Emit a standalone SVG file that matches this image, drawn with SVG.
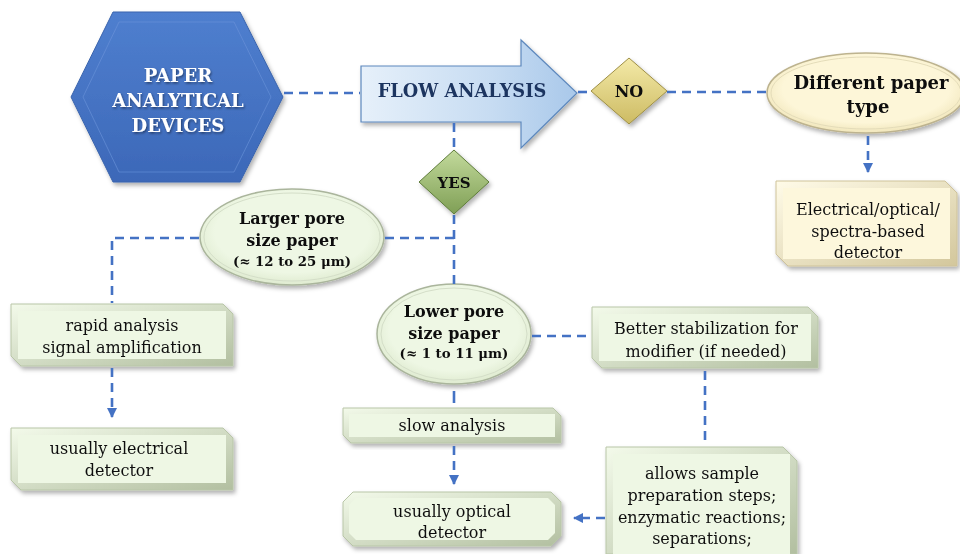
<svg xmlns="http://www.w3.org/2000/svg" width="960" height="554" viewBox="0 0 960 554">
<defs>
<style>
.con{fill:none;stroke:#4472c4;stroke-width:2.6;stroke-dasharray:9 6}
.t{font-family:"DejaVu Serif","Liberation Serif",serif;font-size:16px;fill:#111;text-anchor:middle}
.b{font-family:"DejaVu Serif","Liberation Serif",serif;font-weight:bold;fill:#111;text-anchor:middle}
.gbox{fill:url(#gFrame);stroke:#b9c6a8;stroke-width:1}
.ginner{fill:#eef7e4}
.ybox{fill:url(#yFrame);stroke:#cfc39a;stroke-width:1}
.yinner{fill:#fdf7dc}
</style>
<linearGradient id="gFrame" x1="0" y1="0" x2="1" y2="1"><stop offset="0" stop-color="#f3faea"/><stop offset="1" stop-color="#b2bfa0"/></linearGradient>
<linearGradient id="yFrame" x1="0" y1="0" x2="1" y2="1"><stop offset="0" stop-color="#fffbe8"/><stop offset="1" stop-color="#d3c79c"/></linearGradient>
<linearGradient id="hexG" x1="0" y1="0" x2="0" y2="1"><stop offset="0" stop-color="#4f7fcf"/><stop offset="1" stop-color="#3c68b8"/></linearGradient>
<linearGradient id="arrG" x1="0" y1="0" x2="1" y2="0"><stop offset="0" stop-color="#e6f0fa"/><stop offset="0.6" stop-color="#c7dcf2"/><stop offset="1" stop-color="#a9c8ea"/></linearGradient>
<linearGradient id="noG" x1="0" y1="0" x2="0" y2="1"><stop offset="0" stop-color="#f4eaa8"/><stop offset="1" stop-color="#cdbb63"/></linearGradient>
<linearGradient id="yesG" x1="0" y1="0" x2="0" y2="1"><stop offset="0" stop-color="#c3da9c"/><stop offset="1" stop-color="#7f9f55"/></linearGradient>
<radialGradient id="ellG" cx="0.5" cy="0.45" r="0.6"><stop offset="0.7" stop-color="#eef7e4"/><stop offset="1" stop-color="#d9e6c8"/></radialGradient>
<radialGradient id="ellY" cx="0.5" cy="0.45" r="0.6"><stop offset="0.7" stop-color="#fdf6d8"/><stop offset="1" stop-color="#ece0b0"/></radialGradient>
<filter id="sh" x="-10%" y="-10%" width="125%" height="130%"><feDropShadow dx="2" dy="3" stdDeviation="2" flood-color="#000" flood-opacity="0.3"/></filter>
<filter id="tsh" x="-10%" y="-10%" width="130%" height="140%"><feDropShadow dx="1" dy="1.5" stdDeviation="1" flood-color="#000" flood-opacity="0.45"/></filter>
<marker id="ah" viewBox="0 0 10 10" refX="9" refY="5" markerWidth="4" markerHeight="4" orient="auto"><path d="M0,0L10,5L0,10z" fill="#4472c4"/></marker>
</defs>
<rect width="960" height="554" fill="#fff"/>

<g id="n-pad" filter="url(#sh)">
<polygon points="71,97 113,12 240,12 283,97 240,182 113,182" fill="url(#hexG)" stroke="#3a64ad" stroke-width="1"/>
<polygon points="83,97 119,22 234,22 271,97 234,172 119,172" fill="none" stroke="#6d95da" stroke-width="1" opacity="0.6"/>
<g filter="url(#tsh)">
<text class="b" x="178" y="82" font-size="18" style="fill:#fff">PAPER</text>
<text class="b" x="178" y="107" font-size="18" style="fill:#fff">ANALYTICAL</text>
<text class="b" x="178" y="132" font-size="18" style="fill:#fff">DEVICES</text>
</g>
</g>

<g id="n-flow" filter="url(#sh)">
<polygon points="361,66 521,66 521,40 577,93 521,148 521,122 361,122" fill="url(#arrG)" stroke="#5d88bd" stroke-width="1.2"/>
<text class="b" x="462" y="97" font-size="17.8" style="fill:#1f3560">FLOW ANALYSIS</text>
</g>

<g id="n-no" filter="url(#sh)">
<polygon points="629,58 667,91 629,124 591,91" fill="url(#noG)" stroke="#9e8f45" stroke-width="1"/>
<text class="b" x="629" y="97" font-size="16">NO</text>
</g>

<g id="n-diff" filter="url(#sh)">
<ellipse cx="866" cy="93" rx="99" ry="40" fill="url(#ellY)" stroke="#bdb38f" stroke-width="1.5"/>
<ellipse cx="866" cy="93" rx="95" ry="36" fill="none" stroke="#e4dcb9" stroke-width="1"/>
<text class="b" x="871" y="89" font-size="18">Different paper</text>
<text class="b" x="868" y="113" font-size="18">type</text>
</g>

<g id="n-elec" filter="url(#sh)">
<polygon class="ybox" points="776,181 945,181 957,193 957,266 788,266 776,254"/>
<rect class="yinner" x="783" y="188" width="167" height="71"/>
<text class="t" x="868" y="215">Electrical/optical/</text>
<text class="t" x="868" y="237">spectra-based</text>
<text class="t" x="868" y="258">detector</text>
</g>

<g id="n-yes" filter="url(#sh)">
<polygon points="454,150 489,182 454,214 419,182" fill="url(#yesG)" stroke="#5e7c3a" stroke-width="1"/>
<text class="b" x="454" y="188" font-size="15">YES</text>
</g>

<g id="n-larger" filter="url(#sh)">
<ellipse cx="292" cy="237" rx="92" ry="48" fill="url(#ellG)" stroke="#aab59c" stroke-width="1.5"/>
<ellipse cx="292" cy="237" rx="88" ry="44" fill="none" stroke="#d4dec8" stroke-width="1"/>
<text class="b" x="292" y="224" font-size="16">Larger pore</text>
<text class="b" x="292" y="246" font-size="16">size paper</text>
<text class="b" x="292" y="266" font-size="13.3">(≈ 12 to 25 μm)</text>
</g>

<g id="n-rapid" filter="url(#sh)">
<polygon class="gbox" points="11,304 223,304 233,314 233,366 21,366 11,356"/>
<rect class="ginner" x="18" y="311" width="208" height="48"/>
<text class="t" x="122" y="331">rapid analysis</text>
<text class="t" x="122" y="353">signal amplification</text>
</g>

<g id="n-uelec" filter="url(#sh)">
<polygon class="gbox" points="11,428 223,428 233,438 233,490 21,490 11,480"/>
<rect class="ginner" x="18" y="435" width="208" height="48"/>
<text class="t" x="119" y="454">usually electrical</text>
<text class="t" x="119" y="476">detector</text>
</g>

<g id="n-lower" filter="url(#sh)">
<ellipse cx="454" cy="334" rx="77" ry="50" fill="url(#ellG)" stroke="#aab59c" stroke-width="1.5"/>
<ellipse cx="454" cy="334" rx="73" ry="46" fill="none" stroke="#d4dec8" stroke-width="1"/>
<text class="b" x="454" y="317" font-size="16">Lower pore</text>
<text class="b" x="454" y="339" font-size="16">size paper</text>
<text class="b" x="454" y="358" font-size="13.3">(≈ 1 to 11 μm)</text>
</g>

<g id="n-better" filter="url(#sh)">
<polygon class="gbox" points="592,307 808,307 818,317 818,368 602,368 592,358"/>
<rect class="ginner" x="599" y="314" width="212" height="47"/>
<text class="t" x="706" y="334">Better stabilization for</text>
<text class="t" x="706" y="357">modifier (if needed)</text>
</g>

<g id="n-slow" filter="url(#sh)">
<polygon class="gbox" points="343,408 553,408 561,416 561,443 351,443 343,435"/>
<rect class="ginner" x="349" y="414" width="206" height="23"/>
<text class="t" x="452" y="431">slow analysis</text>
</g>

<g id="n-allows" filter="url(#sh)">
<polygon class="gbox" points="606,447 783,447 797,461 797,554 606,554"/>
<rect class="ginner" x="613" y="454" width="177" height="100"/>
<text class="t" x="702" y="479">allows sample</text>
<text class="t" x="702" y="501">preparation steps;</text>
<text class="t" x="702" y="523">enzymatic reactions;</text>
<text class="t" x="702" y="544">separations;</text>
</g>

<g id="n-uopt" filter="url(#sh)">
<polygon class="gbox" points="353,492 551,492 561,502 561,536 551,546 353,546 343,536 343,502"/>
<polygon class="ginner" points="356,498 548,498 555,505 555,533 548,540 356,540 349,533 349,505"/>
<text class="t" x="452" y="517">usually optical</text>
<text class="t" x="452" y="538">detector</text>
</g>

<g id="connectors">
<path class="con" d="M284,93H360"/>
<path class="con" d="M578,92H591"/>
<path class="con" d="M667,92H767"/>
<path class="con" d="M868,136V172" marker-end="url(#ah)"/>
<path class="con" d="M454,123V150"/>
<path class="con" d="M454,215V284"/>
<path class="con" d="M385,238H454"/>
<path class="con" d="M199,238H112V303"/>
<path class="con" d="M112,368V417" marker-end="url(#ah)"/>
<path class="con" d="M532,336H591"/>
<path class="con" d="M454,391V403" style="stroke-dasharray:none"/>
<path class="con" d="M454,446V484" marker-end="url(#ah)"/>
<path class="con" d="M705,371V446"/>
<path class="con" d="M605,518H574" marker-end="url(#ah)"/>
</g>
</svg>
